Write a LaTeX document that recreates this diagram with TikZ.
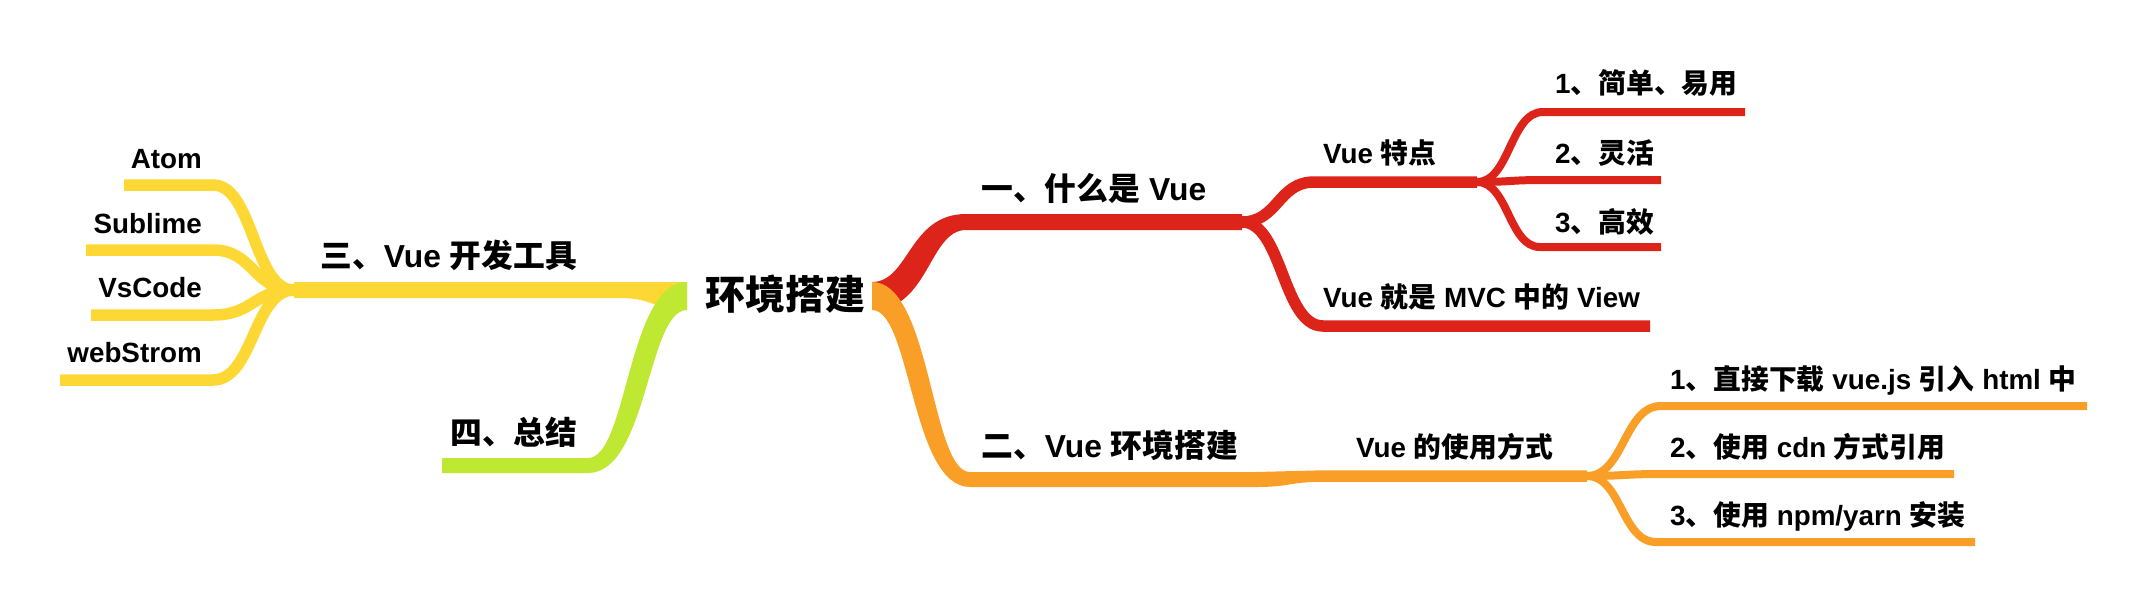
\documentclass[tikz,border=0pt]{standalone}
\usepackage{fontspec}
\setmainfont{Liberation Sans}
\newfontfamily\cjk{Noto Sans CJK SC}
\usetikzlibrary{calc}
\definecolor{bred}{RGB}{221,36,26}
\definecolor{bora}{RGB}{249,159,40}
\definecolor{byel}{RGB}{253,216,52}
\definecolor{bgrn}{RGB}{190,232,50}
\newcommand\zh[1]{{\cjk #1}}
% tapered branch: colour, start, start half width, bend end, end half width, straight end, top-edge shift
\newcommand\ribbon[7]{%
  \fill[#1] let \p1=(#2), \p2=(#4), \p3=(#6), \p4=($(#2)!.5!(#4)$) in
   (\x1,{\y1+#3}) .. controls ({\x4+#7},{\y1+#3}) and ({\x4+#7},{\y2+#5}) .. (\x2,{\y2+#5})
   -- (\x3,{\y3+#5}) -- (\x3,{\y3-#5}) -- (\x2,{\y2-#5})
   .. controls ({\x4-#7},{\y2-#5}) and ({\x4-#7},{\y1-#3}) .. (\x1,{\y1-#3}) -- cycle;}
% S-shaped connector: style, from, bend end, straight end
\newcommand\conn[4]{%
  \coordinate (tmpM) at ($(#2)!.5!(#3)$);
  \draw[#1] (#2) .. controls (#2 -| tmpM) and (#3 -| tmpM) .. (#3) -- (#4);}
\begin{document}
\begin{tikzpicture}[x=1pt,y=-1pt,line cap=butt,
  rootlab/.style={font=\fontsize{40}{46}\selectfont\bfseries,anchor=base west,inner sep=0pt},
  lvone/.style={font=\fontsize{31.8}{36}\selectfont\bfseries,anchor=base west,inner sep=0pt},
  lvtwo/.style={font=\fontsize{27.8}{32}\selectfont\bfseries,anchor=base west,inner sep=0pt},
  lvtwor/.style={font=\fontsize{27.8}{32}\selectfont\bfseries,anchor=base east,inner sep=0pt},
  ctwo/.style={line width=11.5pt},
  cthree/.style={line width=8pt}]
\useasboundingbox (0,0) rectangle (2146,598);

% ---- coordinates
\coordinate (rootL) at (687,296);
\coordinate (rootR) at (872,296);
\coordinate (redB) at (966,222);   \coordinate (redC) at (1242,222);
\coordinate (oraB) at (970,479.5); \coordinate (oraC) at (1256,479.5);
\coordinate (yelB) at (620,290);   \coordinate (yelC) at (294,290);
\coordinate (grnB) at (588,465.5); \coordinate (grnC) at (442,465.5);

\coordinate (atomB) at (213,185); \coordinate (atomE) at (124,185);
\coordinate (subB) at (213,250);  \coordinate (subE) at (86,250);
\coordinate (vsB) at (213,315);   \coordinate (vsE) at (91,315);
\coordinate (wsB) at (213,380);   \coordinate (wsE) at (60,380);

\coordinate (tdB) at (1314,182);  \coordinate (tdE) at (1477,182);
\coordinate (mvB) at (1323,326);  \coordinate (mvE) at (1650,326);
\coordinate (aB) at (1543,112);   \coordinate (aE) at (1745,112);
\coordinate (bB) at (1543,180);   \coordinate (bE) at (1661,180);
\coordinate (cB) at (1540,247);   \coordinate (cE) at (1661,247);

\coordinate (syB) at (1324,476);  \coordinate (syE) at (1587,476);
\coordinate (dB) at (1661,406);   \coordinate (dE) at (2087,406);
\coordinate (eB) at (1661,474);   \coordinate (eE) at (1954,474);
\coordinate (fB) at (1656,542);   \coordinate (fE) at (1975,542);

% ---- main branches
\ribbon{byel}{rootL}{14pt}{yelB}{8pt}{yelC}{0pt}
\ribbon{bgrn}{rootL}{14pt}{grnB}{7.5pt}{grnC}{-10pt}
\ribbon{bred}{rootR}{14pt}{redB}{8pt}{redC}{-10pt}
\ribbon{bora}{rootR}{14pt}{oraB}{7.5pt}{oraC}{10pt}

% ---- yellow sub branches
\conn{byel,ctwo}{yelC}{atomB}{atomE}
\conn{byel,ctwo}{yelC}{subB}{subE}
\conn{byel,ctwo}{yelC}{vsB}{vsE}
\conn{byel,ctwo}{yelC}{wsB}{wsE}

% ---- red sub branches
\conn{bred,ctwo}{redC}{tdB}{tdE}
\conn{bred,ctwo}{redC}{mvB}{mvE}
\conn{bred,cthree}{tdE}{aB}{aE}
\conn{bred,cthree}{tdE}{bB}{bE}
\conn{bred,cthree}{tdE}{cB}{cE}

% ---- orange sub branches
\ribbon{bora}{oraC}{7.5pt}{syB}{5.75pt}{syE}{0pt}
\conn{bora,cthree}{syE}{dB}{dE}
\conn{bora,cthree}{syE}{eB}{eE}
\conn{bora,cthree}{syE}{fB}{fE}

% ---- labels
\node[rootlab] (root) at (705,309) {\zh{环境搭建}};
\node[lvone] (one) at (981,200) {\zh{一、什么是} Vue};
\node[lvone] (two) at (981,457) {\zh{二、}Vue \zh{环境搭建}};
\node[lvone] (three) at (320,267) {\zh{三、}Vue \zh{开发工具}};
\node[lvone] (four) at (450,444) {\zh{四、总结}};

\node[lvtwo] (tedian) at (1323,163) {Vue \zh{特点}};
\node[lvtwo] (mvc) at (1323,307) {Vue \zh{就是} MVC \zh{中的} View};
\node[lvtwo] (shiyong) at (1356,457) {Vue \zh{的使用方式}};

\node[lvtwor] (atom) at (202,168) {Atom};
\node[lvtwor] (sublime) at (202,233) {Sublime};
\node[lvtwor] (vscode) at (202,297) {VsCode};
\node[lvtwor] (webstrom) at (202,362) {webStrom};

\node[lvtwo] (jiandan) at (1555,93) {1\zh{、简单、易用}};
\node[lvtwo] (linghuo) at (1555,163) {2\zh{、灵活}};
\node[lvtwo] (gaoxiao) at (1555,232) {3\zh{、高效}};

\node[lvtwo] (xiazai) at (1670,389) {1\zh{、直接下载} vue.js \zh{引入} html \zh{中}};
\node[lvtwo] (cdn) at (1670,457) {2\zh{、使用} cdn \zh{方式引用}};
\node[lvtwo] (npm) at (1670,525) {3\zh{、使用} npm/yarn \zh{安装}};
\end{tikzpicture}
\end{document}
